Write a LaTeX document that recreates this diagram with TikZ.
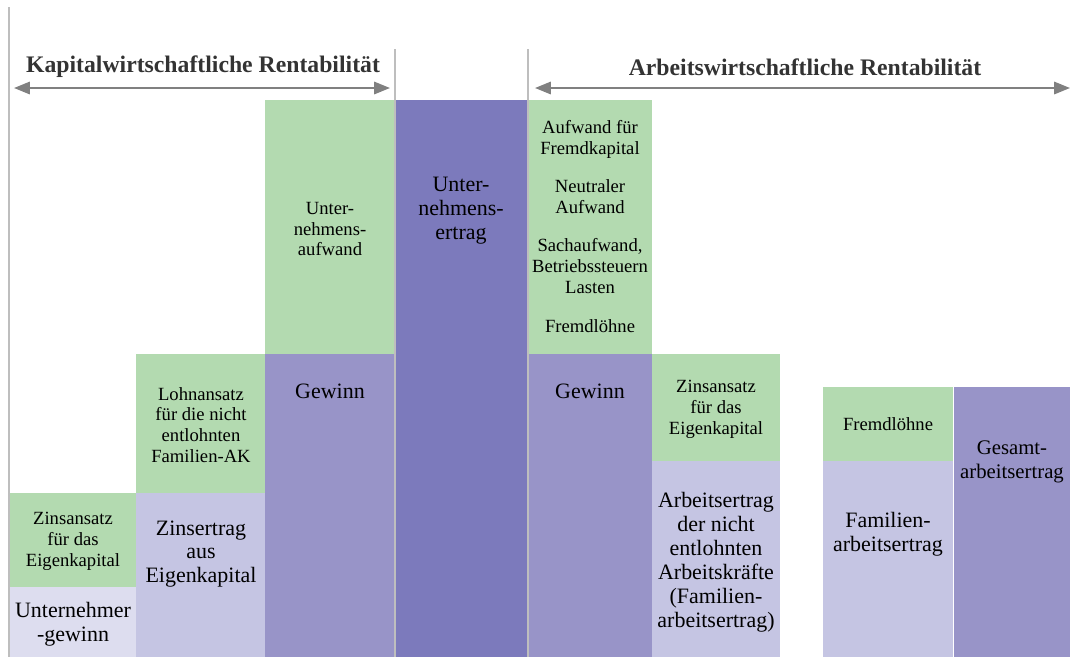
\documentclass[tikz,border=0pt]{standalone}
\usepackage{fontspec}
\setmainfont{Liberation Serif}
\usetikzlibrary{arrows.meta}
\definecolor{gruen}{RGB}{179,218,176}
\definecolor{lilahell}{RGB}{221,221,239}
\definecolor{lilamittel}{RGB}{197,197,227}
\definecolor{lila}{RGB}{152,148,200}
\definecolor{liladunkel}{RGB}{124,122,188}
\definecolor{trenngrau}{RGB}{190,190,190}
\definecolor{pfeilgrau}{RGB}{128,128,128}
\tikzset{
  kleintext/.style={align=center, font=\fontsize{10.6}{11.9}\selectfont, inner sep=0pt},
  grosstext/.style={align=center, font=\fontsize{12.5}{13.6}\selectfont, inner sep=0pt},
  kopftext/.style={font=\fontsize{13.5}{15}\selectfont\bfseries, text=black!80, inner sep=0pt},
  trenner/.style={draw=trenngrau, line width=0.9pt},
  doppelpfeil/.style={draw=pfeilgrau, line width=1.2pt,
    {Triangle[length=9pt,width=7pt]}-{Triangle[length=9pt,width=7pt]}}
}
\begin{document}
\begin{tikzpicture}[x=0.02cm, y=-0.02cm]
                \useasboundingbox (0,0) rectangle (1070,657);%
                \clip (0,0) rectangle (1070,657);%

                % Drawing separator lines
                \coordinate (linksoben) at (9,7);%
                \coordinate (linksunten) at (9,657);%
                \coordinate (mitte1oben) at (395,49);%
                \coordinate (mitte1unten) at (395,657);%
                \coordinate (mitte2oben) at (528,49);%
                \coordinate (mitte2unten) at (528,657);%
                \draw [trenner] (linksoben) -- (linksunten);%
                \draw [trenner] (mitte1oben) -- (mitte1unten);%
                \draw [trenner] (mitte2oben) -- (mitte2unten);%

                % Drawing column 1
                \fill [gruen] (10,493) rectangle (136,587);%
                \fill [lilahell] (10,587) rectangle (136,657);%
                \node [kleintext] (zinsansatzK) at (73,541) {Zinsansatz\\für das\\Eigenkapital};%
                \node [grosstext] (unternehmergewinn) at (73,624) {Unternehmer\\-gewinn};%

                % Drawing column 2
                \fill [gruen] (136,354) rectangle (265,493);%
                \fill [lilamittel] (136,493) rectangle (265,657);%
                \node [kleintext] (lohnansatz) at (201,425) {Lohnansatz\\für die nicht\\entlohnten\\Familien-AK};%
                \node [grosstext] (zinsertrag) at (201,554) {Zinsertrag\\aus\\Eigenkapital};%

                % Drawing column 3
                \fill [gruen] (265,100) rectangle (394,354);%
                \fill [lila] (265,354) rectangle (394,657);%
                \node [kleintext] (uaufwand) at (330,229) {Unter-\\nehmens-\\aufwand};%
                \node [grosstext] (gewinnK) at (330,391) {Gewinn};%

                % Drawing column 4
                \fill [liladunkel] (396,100) rectangle (527,657);%
                \node [grosstext] (uertrag) at (461,211) {Unter-\\nehmens-\\ertrag};%

                % Drawing column 5
                \fill [gruen] (529,100) rectangle (652,354);%
                \fill [lila] (529,354) rectangle (652,657);%
                \node [kleintext] (aufwandFK) at (590,139) {Aufwand für\\Fremdkapital};%
                \node [kleintext] (neutral) at (590,197) {Neutraler\\Aufwand};%
                \node [kleintext] (sachaufwand) at (590,266) {Sachaufwand,\\Betriebssteuern\\Lasten};%
                \node [kleintext] (fremdloehneA) at (590,326) {Fremdlöhne};%
                \node [grosstext] (gewinnA) at (590,391) {Gewinn};%

                % Drawing column 6
                \fill [gruen] (652,354) rectangle (780,461);%
                \fill [lilamittel] (652,461) rectangle (780,657);%
                \node [kleintext] (zinsansatzA) at (716,409) {Zinsansatz\\für das\\Eigenkapital};%
                \node [grosstext] (arbeitsertrag) at (716,562) {Arbeitsertrag\\der nicht\\entlohnten\\Arbeitskräfte\\(Familien-\\arbeitsertrag)};%

                % Drawing column 7
                \fill [gruen] (823,387) rectangle (953,461);%
                \fill [lilamittel] (823,461) rectangle (953,657);%
                \node [kleintext] (fremdloehneB) at (888,424) {Fremdlöhne};%
                \node [grosstext] (familienertrag) at (888,534) {Familien-\\arbeitsertrag};%

                % Drawing column 8
                \fill [lila] (954,387) rectangle (1070,657);%
                \node [grosstext, font=\fontsize{11.8}{13.6}\selectfont] (gesamtertrag) at (1012,462) {Gesamt-\\arbeitsertrag};%

                % Drawing headings and arrows
                \node [kopftext] (kapitalkopf) at (203,67) {Kapitalwirtschaftliche Rentabilität};%
                \coordinate (kapitallinks) at (14,88);%
                \coordinate (kapitalrechts) at (390,88);%
                \draw [doppelpfeil] (kapitallinks) -- (kapitalrechts);%
                \node [kopftext] (arbeitkopf) at (805,67) {Arbeitswirtschaftliche Rentabilität};%
                \coordinate (arbeitlinks) at (535,88);%
                \coordinate (arbeitrechts) at (1070,88);%
                \draw [doppelpfeil] (arbeitlinks) -- (arbeitrechts);%
\end{tikzpicture}
\end{document}
